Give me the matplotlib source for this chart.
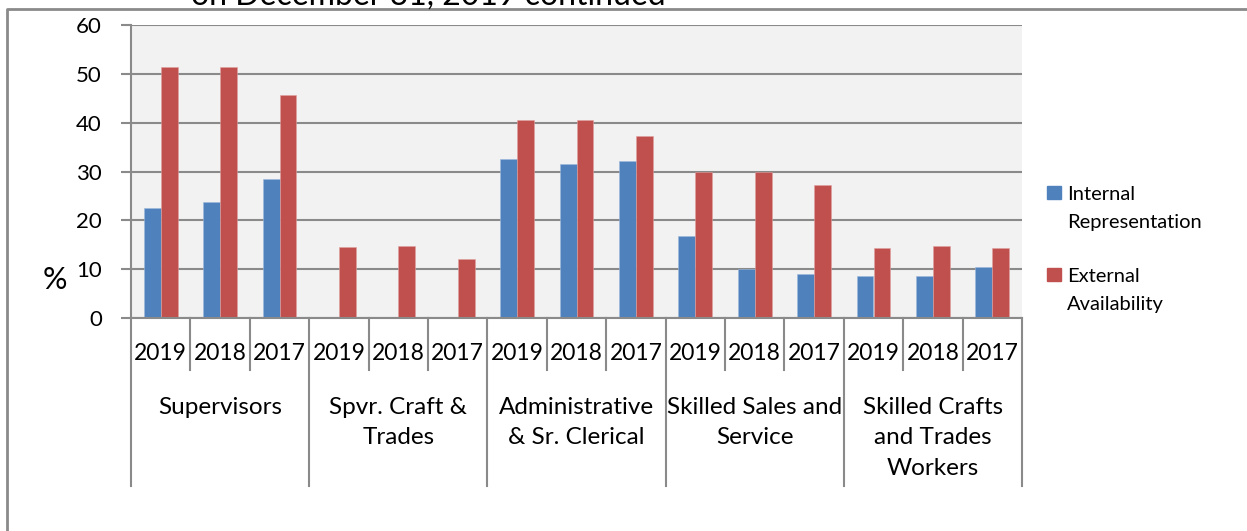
import matplotlib
matplotlib.use('Agg')
import matplotlib.pyplot as plt
from matplotlib import font_manager
from matplotlib.patches import Rectangle
from matplotlib.lines import Line2D
import numpy as np

# data
groups = ['Supervisors', 'Spvr. Craft &\nTrades', 'Administrative\n& Sr. Clerical',
          'Skilled Sales and\nService', 'Skilled Crafts\nand Trades\nWorkers']
years = ['2019', '2018', '2017']
internal = [22.6, 23.7, 28.5,
            0, 0, 0,
            32.6, 31.5, 32.2,
            16.7, 10.1, 9.0,
            8.5, 8.7, 10.4]
external = [51.4, 51.4, 45.7,
            14.5, 14.7, 12.1,
            40.5, 40.5, 37.2,
            30.0, 30.0, 27.2,
            14.4, 14.7, 14.3]
series_names = ['Internal\nRepresentation', 'External\nAvailability']
colors = ['#4F81BD', '#C0504D']

plt.rcParams['font.family'] = ['Lato', 'DejaVu Sans']

W, H = 1247, 531
fig = plt.figure(figsize=(W / 100, H / 100), dpi=100)

def fx(x):
    return x / W

def fy(y):
    return 1 - y / H

grid_c = '#8a8a8a'
ax = fig.add_axes([fx(131), fy(318), fx(1022) - fx(131), fy(25) - fy(318)])
ax.set_facecolor('#F2F2F2')

n = len(internal)
x = np.arange(n) + 0.5
w = 0.286
ax.bar(x - w / 2, internal, w, color=colors[0], edgecolor='#9db8dc', linewidth=0.4)
ax.bar(x + w / 2, external, w, color=colors[1], edgecolor='#e0a09e', linewidth=0.4)

ax.set_xlim(0, n)
ax.set_ylim(0, 60)
ax.set_yticks(range(0, 61, 10))
ax.yaxis.grid(True, color=grid_c, linewidth=1.5)
ax.set_axisbelow(True)
for s in ['top', 'right']:
    ax.spines[s].set_visible(False)
ax.spines['left'].set_color(grid_c)
ax.spines['left'].set_linewidth(1.5)
ax.spines['bottom'].set_color(grid_c)
ax.spines['bottom'].set_linewidth(1.5)
ax.tick_params(axis='y', length=7, width=1.5, color=grid_c, labelsize=16, pad=14)
ax.set_xticks([])

# category axis: year labels, group labels and separators
h_ax = 318 - 25
def ay(y):
    return (318 - y) / h_ax

trans = ax.get_xaxis_transform()
for i in range(n + 1):
    bottom = 486 if i % 3 == 0 else 370
    ax.plot([i, i], [0, ay(bottom)], transform=trans, color=grid_c,
            linewidth=1.5, clip_on=False)
for i in range(n):
    ax.text(i + 0.5, ay(353), years[i % 3], transform=trans, ha='center',
            va='center', fontsize=16.5)
for g, name in enumerate(groups):
    ax.text(g * 3 + 1.5, ay(397), name, transform=trans, ha='center', va='top',
            fontsize=17.5, linespacing=1.55)

fig.text(fx(55), fy(280), '%', ha='center', va='center', fontsize=22)

# legend
for k, (name, c) in enumerate(zip(series_names, colors)):
    top = 186 + k * 82
    fig.add_artist(Rectangle((fx(1047), fy(top + 13)), fx(14), fy(0) - fy(13),
                             color=c, transform=fig.transFigure))
    # baseline alignment of multi-line text uses the last line
    fig.text(fx(1067), fy(top + 42), name, ha='left', va='baseline',
             fontsize=14.5, linespacing=1.75)

# cut-off title and frame
fig.text(fx(428), fy(5), 'on December 31, 2019 continued', ha='center',
         va='baseline', fontsize=23)
fig.add_artist(Line2D([fx(7), fx(7), 1], [0, fy(9), fy(9)], color=grid_c,
                      linewidth=2))

fig.savefig('out.png', dpi=100)
